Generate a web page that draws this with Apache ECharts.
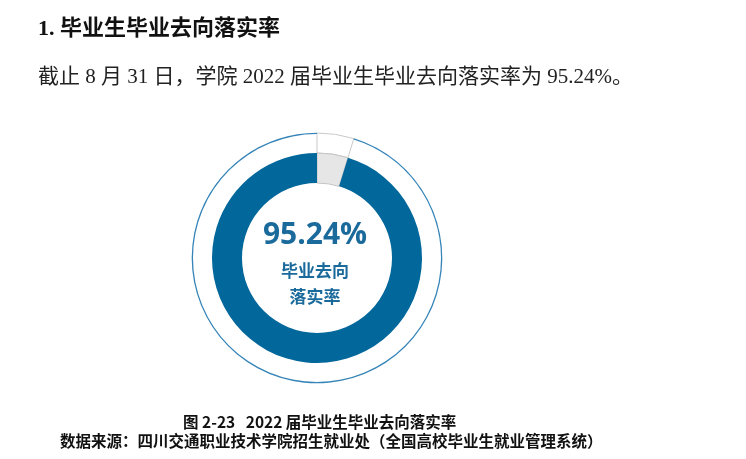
<!DOCTYPE html>
<html>
<head>
<meta charset="utf-8">
<script src="https://cdn.jsdelivr.net/npm/echarts@6/dist/echarts.min.js"></script>
<style>
html,body{margin:0;padding:0;background:#fff;}
#chart{width:746px;height:459px;}
</style>
</head>
<body>
<div id="chart"></div>
<script>
var categories = ['已落实', '未落实'];
var values = [95.24, 4.76];
var headingText = '1. 毕业生毕业去向落实率';
var paragraphText = '截止 8 月 31 日，学院 2022 届毕业生毕业去向落实率为 95.24%。';
var centerValueText = '95.24%';
var centerLabelLines = ['毕业去向', '落实率'];
var captionText = '图 2-23   2022 届毕业生毕业去向落实率';
var sourceText = '数据来源：四川交通职业技术学院招生就业处（全国高校毕业生就业管理系统）';

var chart = echarts.init(document.getElementById('chart'), null, {renderer: 'canvas'});
var CX = 317, CY = 258;
var serif = "'Liberation Serif','Noto Sans CJK SC',serif";
var cjk = "'Noto Sans CJK SC',sans-serif";

// order: gap first (starts at 12 o'clock going clockwise), then main
var gapVal = values[1], mainVal = values[0];

var common = {
  type: 'pie', center: [CX, CY], startAngle: 90, clockwise: true,
  silent: true, label: {show: false}, labelLine: {show: false},
  emphasis: {disabled: true}, animation: false
};

chart.setOption({
  animation: false,
  series: [
    Object.assign({}, common, {
      radius: [105, 125],
      data: [
        {name: categories[1], value: gapVal, itemStyle: {color: '#ffffff', borderColor: '#c9c9c9', borderWidth: 1}},
        {name: categories[0], value: mainVal, itemStyle: {color: 'rgba(0,0,0,0)', borderWidth: 0}}
      ]
    }),
    Object.assign({}, common, {
      radius: [124, 125.3],
      data: [
        {name: categories[1], value: gapVal, itemStyle: {color: 'rgba(0,0,0,0)', borderWidth: 0}},
        {name: categories[0], value: mainVal, itemStyle: {color: '#3584b8', borderWidth: 0}}
      ]
    }),
    Object.assign({}, common, {
      radius: [75, 105],
      data: [
        {name: categories[1], value: gapVal, itemStyle: {color: '#e6e6e6', borderColor: '#c4c4c4', borderWidth: 1}},
        {name: categories[0], value: mainVal, itemStyle: {color: '#02679b', borderWidth: 0}}
      ]
    })
  ],
  graphic: [
    {type: 'text', left: 38, top: 18, style: {text: headingText, font: 'bold 22px ' + serif, fill: '#111'}},
    {type: 'text', left: 38, top: 67, style: {text: paragraphText, font: '21px ' + serif, fill: '#222'}},
    {type: 'text', x: 315, y: 235, style: {text: centerValueText, font: "bold 30px 'Open Sans',sans-serif", fill: '#1b6a9c', align: 'center', verticalAlign: 'middle'}},
    {type: 'text', x: 315, y: 271, style: {text: centerLabelLines[0], font: 'bold 17px ' + cjk, fill: '#1b6a9c', align: 'center', verticalAlign: 'middle'}},
    {type: 'text', x: 315, y: 297, style: {text: centerLabelLines[1], font: 'bold 17px ' + cjk, fill: '#1b6a9c', align: 'center', verticalAlign: 'middle'}},
    {type: 'text', left: 183, top: 414, style: {text: captionText, font: 'bold 15.5px ' + cjk, fill: '#111'}},
    {type: 'text', left: 60, top: 433, style: {text: sourceText, font: 'bold 15.5px ' + cjk, fill: '#111'}}
  ]
});
</script>
</body>
</html>
